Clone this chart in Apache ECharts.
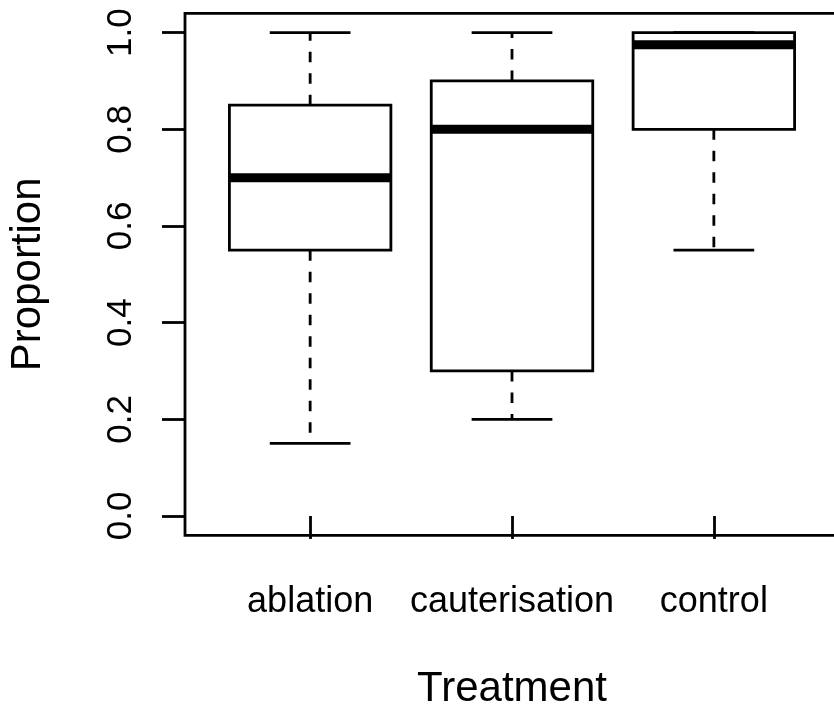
<!DOCTYPE html>
<html>
<head>
<meta charset="utf-8">
<script src="https://cdn.jsdelivr.net/npm/echarts@6/dist/echarts.min.js"></script>
<style>html,body{margin:0;padding:0;background:#fff;}#c{width:834px;height:706px;}</style>
</head>
<body>
<div id="c"></div>
<script>
var categories = ['ablation', 'cauterisation', 'control'];
var lowerWhisker = [0.15, 0.20, 0.55];
var q1 = [0.55, 0.30, 0.80];
var median = [0.70, 0.80, 0.975];
var q3 = [0.85, 0.90, 1.00];
var upperWhisker = [1.00, 1.00, 1.00];
var yTicks = [0, 0.2, 0.4, 0.6, 0.8, 1.0];
var xTicks = [1, 2, 3];

var FONT = 'Liberation Sans, Arial, sans-serif';
var LW = 2.8;

var data = categories.map(function (c, i) {
  return [i + 1, lowerWhisker[i], q1[i], median[i], q3[i], upperWhisker[i]];
});

function renderItem(params, api) {
  var x = api.value(0);
  var lw = api.value(1), a = api.value(2), m = api.value(3), b = api.value(4), uw = api.value(5);
  var half = api.size([0.8, 0])[0] / 2;
  var capHalf = api.size([0.4, 0])[0] / 2;
  var pLW = api.coord([x, lw]), pA = api.coord([x, a]), pM = api.coord([x, m]), pB = api.coord([x, b]), pUW = api.coord([x, uw]);
  var cx = pA[0];
  var children = [];
  var dashStyle = {stroke: '#000', lineWidth: LW, lineDash: [10.5, 11], fill: null};
  var solid = {stroke: '#000', lineWidth: LW, fill: null};
  if (Math.abs(pUW[1] - pB[1]) > 0.5) {
    children.push({type: 'line', shape: {x1: cx, y1: pB[1], x2: cx, y2: pUW[1]}, style: dashStyle});
  }
  if (Math.abs(pLW[1] - pA[1]) > 0.5) {
    children.push({type: 'line', shape: {x1: cx, y1: pA[1], x2: cx, y2: pLW[1]}, style: dashStyle});
  }
  children.push({type: 'line', shape: {x1: cx - capHalf, y1: pUW[1], x2: cx + capHalf, y2: pUW[1]}, style: solid});
  children.push({type: 'line', shape: {x1: cx - capHalf, y1: pLW[1], x2: cx + capHalf, y2: pLW[1]}, style: solid});
  children.push({type: 'rect', shape: {x: cx - half, y: pB[1], width: half * 2, height: pA[1] - pB[1]},
    style: {fill: '#fff', stroke: '#000', lineWidth: LW}});
  children.push({type: 'line', shape: {x1: cx - half, y1: pM[1], x2: cx + half, y2: pM[1]},
    style: {stroke: '#000', lineWidth: 9, fill: null, lineCap: 'butt'}});
  return {type: 'group', children: children};
}

var chart = echarts.init(document.getElementById('c'), null, {renderer: 'canvas'});
chart.setOption({
  animation: false,
  backgroundColor: '#fff',
  grid: {left: 185, right: -5, top: 13.3, bottom: 170.7, containLabel: false, outerBoundsMode: 'none',
    show: true, borderColor: '#000', borderWidth: LW, backgroundColor: 'transparent'},
  xAxis: {
    type: 'value', min: 0.38, max: 3.62,
    name: 'Treatment', nameLocation: 'middle', nameGap: 133,
    nameTextStyle: {fontFamily: FONT, fontSize: 42, color: '#000', lineHeight: 42},
    axisLine: {show: false},
    splitLine: {show: false},
    axisTick: {show: true, customValues: xTicks, length: 23, lineStyle: {color: '#000', width: LW}},
    axisLabel: {show: true, customValues: xTicks, margin: 49, fontFamily: FONT, fontSize: 36, color: '#000', lineHeight: 36,
      formatter: function (v) { return categories[Math.round(v) - 1]; }}
  },
  yAxis: {
    type: 'value', min: -0.04, max: 1.04,
    name: 'Proportion', nameLocation: 'middle', nameGap: 136,
    nameTextStyle: {fontFamily: FONT, fontSize: 42, color: '#000', lineHeight: 42},
    axisLine: {show: false},
    splitLine: {show: false},
    axisTick: {show: true, customValues: yTicks, length: 23, lineStyle: {color: '#000', width: LW}},
    axisLabel: {show: true, customValues: yTicks, rotate: 90, margin: 46, fontFamily: FONT, fontSize: 35, color: '#000', lineHeight: 35,
      formatter: function (v) { return v.toFixed(1); }}
  },
  series: [{
    type: 'custom',
    renderItem: renderItem,
    data: data,
    encode: {x: 0, y: [1, 2, 3, 4, 5]},
    clip: false
  }]
});
</script>
</body>
</html>
